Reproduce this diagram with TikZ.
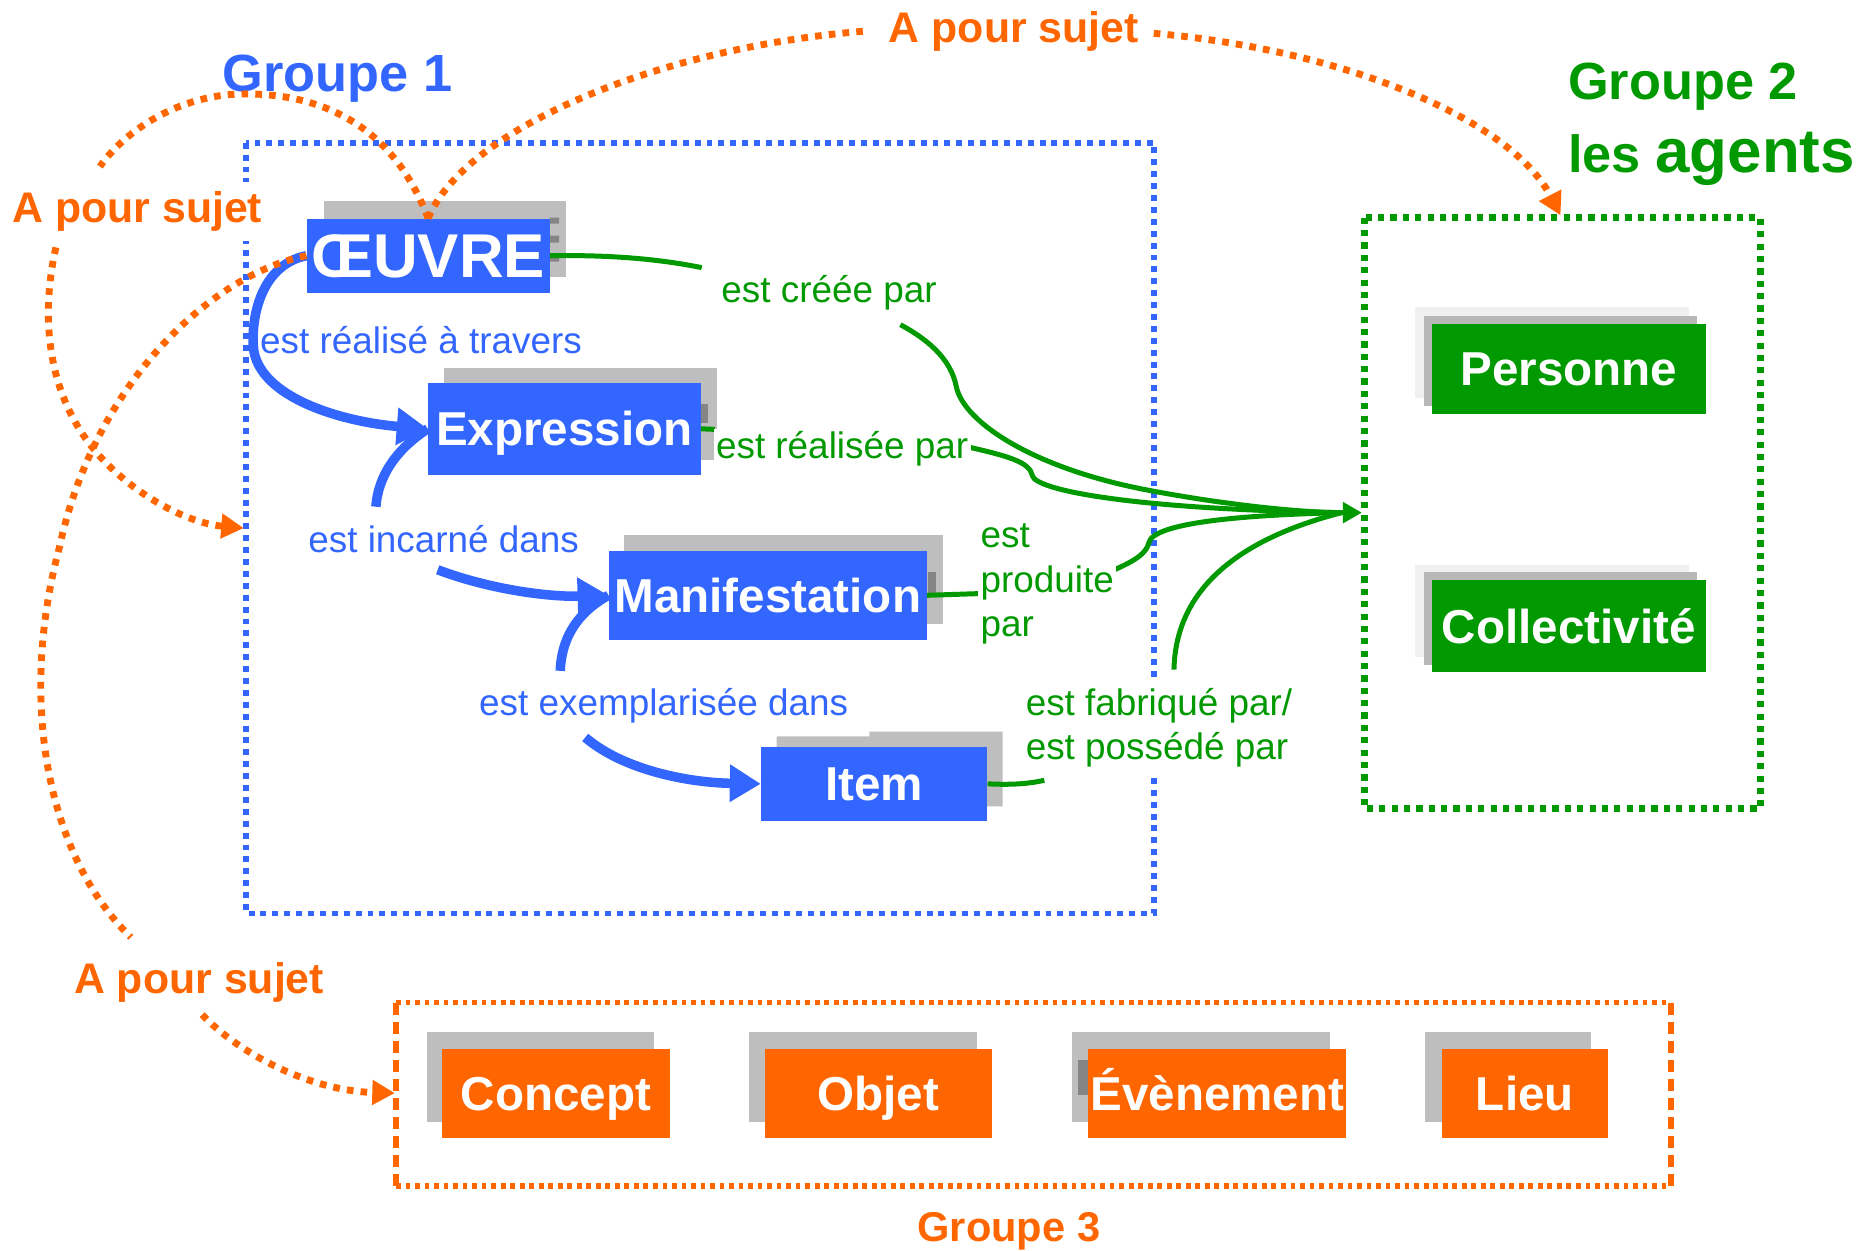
\documentclass[tikz,border=0pt]{standalone}
\usepackage{fontspec}
\setmainfont{Liberation Sans}
\usetikzlibrary{arrows.meta,calc}
\definecolor{fbBlue}{HTML}{3366FF}
\definecolor{fbGreen}{HTML}{009900}
\definecolor{fbOrange}{HTML}{FF6600}
\definecolor{shGray}{HTML}{BEBEBE}
\definecolor{shMid}{HTML}{B8B8B8}
\definecolor{shLight}{HTML}{F0F0F0}
\definecolor{markGray}{HTML}{858585}
\begin{document}
\begin{tikzpicture}[x=0.5pt,y=-0.5pt,
  ent/.style={inner sep=0pt, text=white, text height=14.3pt, text depth=0pt, font=\bfseries\fontsize{20}{24}\selectfont},
  bluent/.style={ent, fill=fbBlue},
  greenent/.style={ent, fill=fbGreen},
  orent/.style={ent, fill=fbOrange},
  bluelab/.style={text=fbBlue, fill=white, inner sep=1pt, font=\fontsize{15.5}{18.75}\selectfont},
  greenlab/.style={text=fbGreen, fill=white, inner sep=1pt, align=left, font=\fontsize{15.5}{18.75}\selectfont},
  relline/.style={draw=fbBlue, line width=4pt},
  relarrow/.style={relline, -{Triangle[length=13pt,width=15pt]}},
  agline/.style={draw=fbGreen, line width=2.1pt},
  subj/.style={draw=fbOrange, line width=2.9pt, dash pattern=on 2.8pt off 3pt},
  subjarrow/.style={subj, -{Triangle[length=9.5pt,width=10pt]}},
  subjlab/.style={text=fbOrange, fill=white, inner sep=1pt, font=\bfseries\fontsize{18}{21}\selectfont},
  grouptitle/.style={inner sep=0pt, font=\bfseries\fontsize{22}{26}\selectfont}
]
\useasboundingbox (0,0) rectangle (1568,1051);

% group boxes
\draw[fbBlue, line width=2.4pt, dash pattern=on 2.5pt off 2.5pt] (207,120) rectangle (970,768);
\draw[fbGreen, line width=2.8pt, dash pattern=on 2.6pt off 2.6pt] (1147,183) rectangle (1480,680);
\draw[fbOrange, line width=2.3pt, dash pattern=on 2pt off 2pt] (333,843) -- (1405,843) (333,997) -- (1405,997);
\draw[fbOrange, line width=2.3pt, dash pattern=on 5pt off 3pt] (333,843) -- (333,997) (1405,843) -- (1405,997);

% group titles
\node[grouptitle, text=fbBlue, anchor=base west] (g1t) at (187,77) {Groupe 1};
\node[grouptitle, text=fbGreen, anchor=base west] (g2t) at (1318,84) {Groupe 2};
\node[grouptitle, text=fbGreen, anchor=base west] (g2u) at (1318,145) {les {\fontsize{26}{30}\selectfont agents}};
\node[grouptitle, text=fbOrange, anchor=base west, font=\bfseries\fontsize{17.5}{21}\selectfont] (g3t) at (771,1044) {Groupe 3};

% shadows
\fill[shGray] (272,169) rectangle (476,233);
\fill[markGray] (462,183) rectangle (470,188) (462,198) rectangle (470,204) (462,214) rectangle (470,220);
\fill[shGray] (373,309) rectangle (603,387);
\fill[markGray] (589,340) rectangle (595,356);
\fill[shGray] (525,450) rectangle (793,525);
\fill[markGray] (780,481) rectangle (787,502);
\fill[shGray] (653,619) rectangle (731,678) (731,615) rectangle (843,678);
\fill[shLight] (1190,258) rectangle (1420,335);
\fill[shMid] (1197,266) rectangle (1427,341);
\fill[shLight] (1190,475) rectangle (1420,552);
\fill[shMid] (1197,481) rectangle (1427,559);
\fill[shGray] (359,868) rectangle (550,943);
\fill[shGray] (630,868) rectangle (821,943);
\fill[shGray] (901,868) rectangle (1118,943);
\fill[markGray] (906,891) rectangle (915,921);
\fill[shGray] (1198,868) rectangle (1338,943);

% entities
\node[bluent, minimum width=102pt, minimum height=31pt, text height=18.6pt, font=\bfseries\fontsize{26}{30}\selectfont] (oeuvre) at (360,215) {ŒUVRE};
\node[bluent, minimum width=114.5pt, minimum height=38.5pt] (expression) at (474.5,360.5) {Expression};
\node[bluent, minimum width=133.5pt, minimum height=37.5pt] (manifestation) at (645.5,500.5) {Manifestation};
\node[bluent, minimum width=95pt, minimum height=31pt] (item) at (735,659) {Item};
\node[greenent, minimum width=115pt, minimum height=38pt] (personne) at (1319,310) {Personne};
\node[greenent, minimum width=115pt, minimum height=38.5pt] (collectivite) at (1319,526.5) {Collectivité};
\node[orent, minimum width=95.5pt, minimum height=37.5pt] (concept) at (467.5,919.5) {Concept};
\node[orent, minimum width=95.5pt, minimum height=37.5pt] (objet) at (738.5,919.5) {Objet};
\node[orent, minimum width=108.5pt, minimum height=37.5pt] (evenement) at (1023.5,919.5) {Évènement};
\node[orent, minimum width=70pt, minimum height=37.5pt] (lieu) at (1282,919.5) {Lieu};

% coordinates
\coordinate (b2e) at (316,426);
\coordinate (b2s) at (368,479);
\coordinate (b3e) at (471,564);
\coordinate (b3s) at (492,620);
\coordinate (g1e) at (590,225);
\coordinate (g1s) at (757,273);
\coordinate (g2e) at (601,361);
\coordinate (g2s) at (815,376);
\coordinate (g3e) at (825,499);
\coordinate (g3s) at (937,479);
\coordinate (g4e) at (878,656);
\coordinate (g4s) at (987,563);
\coordinate (gt) at (1128,431);
\coordinate (gtip) at (1145,431);
\coordinate (o1e) at (729,26);
\coordinate (o1s) at (970,28);
\coordinate (g2top) at (1312,181);
\coordinate (o2e) at (84,140);
\coordinate (o3s) at (47,208);
\coordinate (g1left) at (205,444);
\coordinate (o4e) at (110,788);
\coordinate (o5s) at (170,853);
\coordinate (g3left) at (332,919);

% blue relations
\draw[relarrow] (oeuvre.west) .. controls (222,222) and (211,262) .. (213,292) .. controls (217,335) and (290,355) .. (expression.west);
\draw[relline] (expression.west) .. controls (333,378) and (318,400) .. (b2e);
\draw[relarrow] (b2s) .. controls (410,495) and (460,502) .. (manifestation.west);
\draw[relline] (manifestation.west) .. controls (482,517) and (472,540) .. (b3e);
\draw[relarrow] (b3s) .. controls (525,648) and (580,658) .. (item.west);

% green relations
\draw[agline] (oeuvre.east) .. controls (520,214) and (560,219) .. (g1e);
\draw[agline] (g1s) .. controls (785,288) and (800,305) .. (804,325) .. controls (810,355) and (870,395) .. (970,413) .. controls (1040,426) and (1100,431) .. (gt);
\draw[agline] (expression.east) -- (g2e);
\draw[agline] (g2s) .. controls (845,383) and (866,388) .. (868,400) .. controls (871,412) and (950,428) .. (gt);
\draw[agline] (manifestation.east) -- (g3e);
\draw[agline] (g3s) .. controls (955,471) and (964,465) .. (966,456) .. controls (970,440) and (1040,433) .. (gt);
\draw[agline] (item.east) .. controls (850,660) and (865,659) .. (g4e);
\draw[agline] (g4s) .. controls (988,515) and (1015,460) .. (gt);
\draw[agline, -{Triangle[length=8pt,width=8.5pt]}] (gt) -- (gtip);

% subject relations
\draw[subj] (oeuvre.north) .. controls (390,110) and (550,40) .. (o1e);
\draw[subjarrow] (o1s) .. controls (1130,42) and (1270,100) .. (g2top);
\draw[subj] (oeuvre.north) .. controls (330,105) and (270,78) .. (203,79) .. controls (150,80) and (105,110) .. (o2e);
\draw[subjarrow] (o3s) .. controls (33,270) and (40,340) .. (90,390) .. controls (120,420) and (160,440) .. (g1left);
\draw[subj] (oeuvre.west) .. controls (180,230) and (80,320) .. (50,460) .. controls (15,590) and (40,720) .. (o4e);
\draw[subjarrow] (o5s) .. controls (200,885) and (260,917) .. (g3left);

% labels
\node[bluelab, fill=none] (l1) at (354,286) {est réalisé à travers};
\node[bluelab] (l2) at (373,453) {est incarné dans};
\node[bluelab] (l3) at (558,593) {est exemplarisée dans};
\node[greenlab] (l4) at (697,246) {est créée par};
\node[greenlab] (l5) at (708,377) {est réalisée par};
\node[greenlab, anchor=west] (l6) at (822,491) {est\\produite\\par};
\node[greenlab, anchor=west, inner sep=3pt] (l7) at (856,612) {est fabriqué par/\\est possédé par};
\node[subjlab, anchor=base west] (s1) at (745,36) {A pour sujet};
\node[subjlab, anchor=base west, inner ysep=4pt] (s2) at (8,187) {A pour sujet};
\node[subjlab, anchor=base west] (s3) at (60,835) {A pour sujet};
\end{tikzpicture}
\end{document}
